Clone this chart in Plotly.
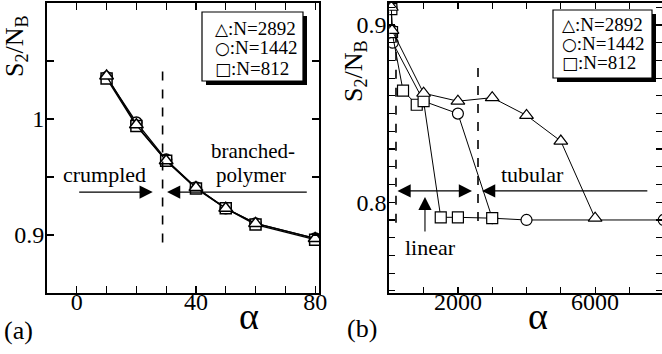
import plotly.graph_objects as go

# ---------------- data ----------------
alpha_a = [10, 20, 30, 40, 50, 60, 80]
s_tri_a = [1.037, 0.995, 0.964, 0.941, 0.923, 0.910, 0.897]
s_cir_a = [1.036, 0.997, 0.965, 0.941, 0.923, 0.910, 0.897]
s_sqr_a = [1.035, 0.994, 0.964, 0.940, 0.923, 0.909, 0.896]

alpha_tri_b = [1000, 2000, 3000, 4000, 5000, 6000]
s_tri_b = [0.8615, 0.857, 0.859, 0.849, 0.8345, 0.791]
alpha_cir_b = [100, 1000, 2000, 3000, 4000, 8000]
s_cir_b = [0.890, 0.857, 0.850, 0.791, 0.790, 0.790]
alpha_sqr_b = [400, 800, 1000, 1500, 2000, 3000]
s_sqr_b = [0.863, 0.855, 0.857, 0.7915, 0.7915, 0.791]

legend_labels = [":N=2892", ":N=1442", ":N=812"]
legend_symbols = ["△", "○", "□"]

xticks_a = [0, 10, 20, 30, 40, 50, 60, 70, 80]
xlabels_a = ["0", " ", " ", " ", "40", " ", " ", " ", "80"]
yticks_a = [0.9, 0.95, 1.0, 1.05]
ylabels_a = ["0.9", " ", "1", " "]
xticks_b = [1000, 2000, 3000, 4000, 5000, 6000, 7000]
xlabels_b = [" ", "2000", " ", " ", " ", "6000", " "]
yticks_b = [0.75, 0.76, 0.77, 0.78, 0.79, 0.80, 0.81, 0.82, 0.83, 0.84,
            0.85, 0.86, 0.87, 0.88, 0.89, 0.90, 0.91]
ylabels_b = [" ", " ", " ", " ", " ", "0.8", " ", " ", " ", " ", " ", " ", " ", " ", " ", "0.9", " "]

# ---------------- helpers ----------------
W, H = 662, 354
def px(x):
    return x / W
def py(y):
    return 1 - y / H

SERIF = "Liberation Serif"
BLACK = "black"

fig = go.Figure()

def add_series(xs, ys, symbol, size, xa, ya, lw, mlw):
    fig.add_trace(go.Scatter(
        x=xs, y=ys, mode="lines+markers", xaxis=xa, yaxis=ya,
        line=dict(color=BLACK, width=lw),
        marker=dict(symbol=symbol, size=size, color="white",
                    line=dict(color=BLACK, width=mlw)),
        showlegend=False, hoverinfo="skip"))

# panel (a): circle, square, triangle (triangle on top)
add_series(alpha_a, s_cir_a, "circle", 11, "x", "y", 1.3, 1.5)
add_series(alpha_a, s_sqr_a, "square", 11, "x", "y", 1.3, 1.5)
add_series(alpha_a, s_tri_a, "triangle-up", 12, "x", "y", 1.3, 1.5)

# panel (b)
add_series(alpha_a + alpha_cir_b, s_cir_a + s_cir_b, "circle", 11, "x2", "y2", 1.0, 1.2)
add_series(alpha_a + alpha_sqr_b, s_sqr_a + s_sqr_b, "square", 11, "x2", "y2", 1.0, 1.2)
add_series(alpha_a + alpha_tri_b, s_tri_a + s_tri_b, "triangle-up", 12, "x2", "y2", 1.0, 1.2)

axis_common = dict(showline=True, linecolor=BLACK, linewidth=2, mirror="allticks",
                   ticks="inside", tickcolor=BLACK, tickwidth=1.2,
                   showgrid=False, zeroline=False,
                   tickfont=dict(family=SERIF, size=24, color=BLACK))

ydom = [py(293), py(3)]
fig.update_layout(
    width=W, height=H, margin=dict(l=0, r=0, t=0, b=0, autoexpand=False),
    paper_bgcolor="white", plot_bgcolor="white",
    xaxis=dict(domain=[px(47), px(319)], range=[-10, 81.3], anchor="y",
               tickmode="array", tickvals=xticks_a, ticktext=xlabels_a, ticklen=7,
               ticklabelstandoff=-14, **axis_common),
    yaxis=dict(domain=ydom, range=[0.85, 1.1], anchor="x",
               tickmode="array", tickvals=yticks_a, ticktext=ylabels_a, ticklen=7,
               ticklabelstandoff=-4, **axis_common),
    xaxis2=dict(domain=[px(389.3), 1.0], range=[0, 7950], anchor="y2",
                tickmode="array", tickvals=xticks_b, ticktext=xlabels_b, ticklen=6,
                ticklabelstandoff=-14, **axis_common),
    yaxis2=dict(domain=ydom, range=[0.7488, 0.9124], anchor="x2",
                tickmode="array", tickvals=yticks_b, ticktext=ylabels_b, ticklen=6,
                ticklabelstandoff=-4, **axis_common),
    showlegend=False,
)

shapes = []
annotations = []

# dashed lines
shapes.append(dict(type="line", xref="x", yref="y", x0=28.8, x1=28.8, y0=1.041, y1=0.889,
                   line=dict(color=BLACK, width=1.6, dash="dash")))
shapes.append(dict(type="line", xref="x2", yref="y2", x0=195, x1=195, y0=0.895, y1=0.786,
                   line=dict(color=BLACK, width=1.6, dash="dash")))
shapes.append(dict(type="line", xref="x2", yref="y2", x0=2586, x1=2586, y0=0.8757, y1=0.7844,
                   line=dict(color=BLACK, width=1.6, dash="dash")))

def arrow(xref, yref, x, y, ax, ay, both=False):
    annotations.append(dict(xref=xref, yref=yref, axref=xref, ayref=yref,
                            x=x, y=y, ax=ax, ay=ay, text="", showarrow=True,
                            arrowhead=2, arrowsize=2.4, arrowwidth=1.1, arrowcolor=BLACK,
                            arrowside="end+start" if both else "end", standoff=0, startstandoff=0))

arrow("x", "y", 25.5, 0.937, 0.3, 0.937)
arrow("x", "y", 30.3, 0.937, 77.7, 0.937)
arrow("x2", "y2", 2411, 0.8064, 195, 0.8064, both=True)
arrow("x2", "y2", 2703, 0.8064, 7566, 0.8064)
arrow("x2", "y2", 1040, 0.803, 1040, 0.7827)

def label(xref, yref, x, y, text, size=22):
    annotations.append(dict(xref=xref, yref=yref, x=x, y=y, text=text, showarrow=False,
                            xanchor="center", yanchor="middle",
                            font=dict(family=SERIF, size=size, color=BLACK)))

label("x", "y", 9.4, 0.952, "crumpled")
label("x", "y", 59.0, 0.9725, "branched-", 21)
label("x", "y", 58.5, 0.9515, "polymer", 21)
label("x2", "y2", 4160, 0.8154, "tubular")
label("x2", "y2", 1187, 0.7742, "linear")

# axis titles and panel tags (paper coordinates)
def ptext(x, y, text, size, angle=0):
    annotations.append(dict(xref="paper", yref="paper", x=px(x), y=py(y), text=text,
                            showarrow=False, xanchor="center", yanchor="middle", textangle=angle,
                            font=dict(family=SERIF, size=size, color=BLACK)))

ptext(16, 46, "S<sub>2</sub>/N<sub>B</sub>", 26, -90)
ptext(355, 71, "S<sub>2</sub>/N<sub>B</sub>", 26, -90)
ptext(249, 316, "α", 38)
ptext(538, 316, "α", 38)
ptext(18, 330, "(a)", 26)
ptext(362, 328, "(b)", 26)

# legend boxes with shadow
def legend_box(x0, y0, x1, y1, tx, rows):
    shapes.append(dict(type="rect", xref="paper", yref="paper",
                       x0=px(x0 + 4), x1=px(x1 + 4), y0=py(y1 + 4), y1=py(y0 + 4),
                       fillcolor=BLACK, line=dict(width=0)))
    shapes.append(dict(type="rect", xref="paper", yref="paper",
                       x0=px(x0), x1=px(x1), y0=py(y1), y1=py(y0),
                       fillcolor="white", line=dict(color=BLACK, width=1.2)))
    for sym, lab, ry in zip(legend_symbols, legend_labels, rows):
        annotations.append(dict(xref="paper", yref="paper", x=px(tx), y=py(ry),
                                xanchor="left", yanchor="middle", showarrow=False,
                                text="<span style='font-family:DejaVu Sans;font-size:17px'>" + sym + "</span>" + lab,
                                font=dict(family=SERIF, size=19, color=BLACK)))

legend_box(202, 12, 303, 81, 213, [28, 48, 68])
legend_box(553, 10, 652, 78, 560, [24, 43, 62])

fig.update_layout(shapes=shapes, annotations=annotations)
fig.write_html("out.html", config={"displayModeBar": False, "staticPlot": True},
               post_script="document.body.style.margin='0';document.body.style.overflow='hidden';")
